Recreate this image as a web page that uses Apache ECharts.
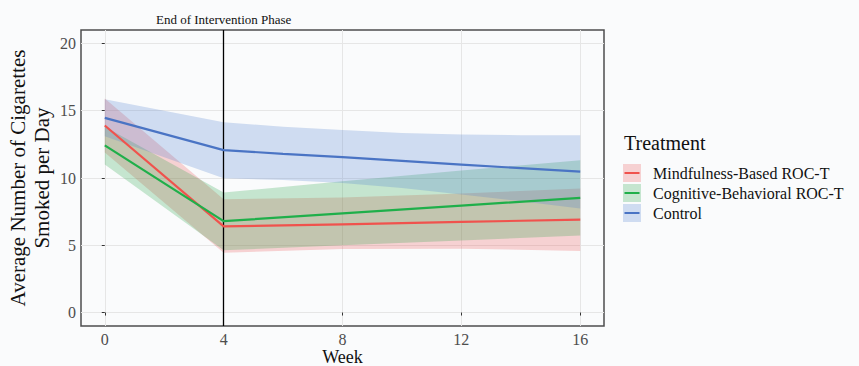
<!DOCTYPE html>
<html><head><meta charset="utf-8">
<script src="https://cdn.jsdelivr.net/npm/echarts@6/dist/echarts.min.js"></script>
<style>html,body{margin:0;padding:0;background:#fafbfc}#c{width:859px;height:366px}</style>
</head><body><div id="c"></div>
<script>
// ---- data ----
const groupNames = ['Mindfulness-Based ROC-T', 'Cognitive-Behavioral ROC-T', 'Control'];
const weeks = [0, 4, 8, 12, 16];
const controlWeeks = [0, 4, 6, 8, 10, 12, 14, 16];
const xTicks = [0, 4, 8, 12, 16];
const yTicks = [0, 5, 10, 15, 20];
const mindfulMean  = [13.9, 6.40, 6.56, 6.74, 6.90];
const mindfulLower = [11.9, 4.45, 4.72, 4.75, 4.58];
const mindfulUpper = [15.9, 8.42, 8.55, 8.85, 9.22];
const cbtMean  = [12.42, 6.79, 7.37, 7.95, 8.52];
const cbtLower = [11.0, 4.63, 5.00, 5.35, 5.72];
const cbtUpper = [13.8, 8.92, 9.75, 10.55, 11.32];
const controlMean  = [14.47, 12.07, 11.80, 11.55, 11.28, 11.00, 10.73, 10.47];
const controlLower = [13.10, 9.98, 9.85, 9.62, 9.25, 8.78, 8.28, 7.74];
const controlUpper = [15.85, 14.15, 13.80, 13.56, 13.35, 13.23, 13.18, 13.18];
const vlineWeek = 4;
const vlineLabel = 'End of Intervention Phase';

// ---- styles ----
const lineColors = ['#F0524D', '#1FAF4A', '#4A74C4'];
const bandColors = ['rgba(236,85,85,0.25)', 'rgba(40,165,72,0.25)', 'rgba(79,127,207,0.25)'];
const FONT = 'Liberation Serif';

const groups = [
  {x: weeks, mean: mindfulMean, lo: mindfulLower, hi: mindfulUpper},
  {x: weeks, mean: cbtMean, lo: cbtLower, hi: cbtUpper},
  {x: controlWeeks, mean: controlMean, lo: controlLower, hi: controlUpper}
];

const series = [];
groups.forEach((g, i) => {
  series.push({
    type: 'custom', name: '_band' + i, silent: true, z: 1,
    data: g.x.map((w, k) => [w, g.lo[k], g.hi[k]]),
    encode: {x: 0, y: [1, 2]},
    renderItem: (params, api) => {
      if (params.dataIndex !== 0) return null;
      const pts = [];
      g.x.forEach((w, k) => pts.push(api.coord([w, g.hi[k]])));
      for (let k = g.x.length - 1; k >= 0; k--) pts.push(api.coord([g.x[k], g.lo[k]]));
      return {type: 'polygon', shape: {points: pts}, style: {fill: bandColors[i], stroke: null}};
    }
  });
});
groups.forEach((g, i) => {
  series.push({
    type: 'line', name: groupNames[i],
    data: g.x.map((w, k) => [w, g.mean[k]]),
    symbol: 'none', lineStyle: {color: lineColors[i], width: 2.2},
    itemStyle: {color: lineColors[i]}, z: 5
  });
});
series.push({
  type: 'line', name: '_vline', data: [], z: 10, silent: true,
  markLine: {
    silent: true, symbol: 'none', animation: false,
    lineStyle: {color: '#000', width: 1.3, type: 'solid'},
    label: {show: true, position: 'end', formatter: vlineLabel, fontFamily: FONT, fontSize: 13, color: '#111', distance: 4},
    data: [{xAxis: vlineWeek}]
  }
});

const option = {
  backgroundColor: '#fafbfc',
  animation: false,
  title: {text: 'Treatment', left: 624, top: 133, padding: 0,
    textStyle: {fontFamily: FONT, fontSize: 20, fontWeight: 'normal', color: '#111'}},
  legend: [
    {orient: 'vertical', left: 623, top: 164, padding: 0, itemWidth: 18, itemHeight: 18, itemGap: 2,
     selectedMode: false,
     textStyle: {fontFamily: FONT, fontSize: 16, color: '#111', lineHeight: 18, padding: [0, 0, 0, 7]},
     data: groupNames.map((n, i) => ({name: n, icon: 'rect', itemStyle: {color: bandColors[i]}}))},
    {orient: 'vertical', left: 624.5, top: 164, padding: 0, itemWidth: 15, itemHeight: 2, itemGap: 2,
     selectedMode: false,
     textStyle: {fontFamily: FONT, fontSize: 16, color: 'rgba(0,0,0,0)', lineHeight: 18, padding: [0, 0, 0, 10]},
     data: groupNames.map((n, i) => ({name: n, icon: 'rect', itemStyle: {color: lineColors[i]}}))}
  ],
  grid: {left: 81, right: 255, top: 30, bottom: 40, outerBoundsMode: 'none', containLabel: false,
    show: true, borderColor: '#4d4d4d', borderWidth: 1.5, backgroundColor: 'transparent'},
  xAxis: {
    type: 'value', min: -0.8, max: 16.8,
    name: 'Week', nameLocation: 'middle', nameGap: 22, nameMoveOverlap: false,
    nameTextStyle: {fontFamily: FONT, fontSize: 18, color: '#111', lineHeight: 18},
    axisLine: {show: false},
    axisTick: {show: true, length: 3, lineStyle: {color: '#333'}, customValues: xTicks},
    axisLabel: {fontFamily: FONT, fontSize: 16, color: '#4d4d4d', margin: 5, lineHeight: 16, customValues: xTicks},
    splitLine: {show: true, lineStyle: {color: '#e6e6e6', width: 1}}
  },
  yAxis: {
    type: 'value', min: -1, max: 21,
    name: 'Average Number of Cigarettes\nSmoked per Day', nameLocation: 'middle', nameGap: 27, nameRotate: 90, nameMoveOverlap: false,
    nameTextStyle: {fontFamily: FONT, fontSize: 21, color: '#111', lineHeight: 24},
    axisLine: {show: false},
    axisTick: {show: true, length: 3, lineStyle: {color: '#333'}, customValues: yTicks},
    axisLabel: {fontFamily: FONT, fontSize: 16, color: '#4d4d4d', margin: 5, customValues: yTicks},
    splitLine: {show: true, lineStyle: {color: '#e6e6e6', width: 1}}
  },
  series: series
};
const chart = echarts.init(document.getElementById('c'), null, {renderer: 'svg'});
chart.setOption(option);
</script></body></html>
